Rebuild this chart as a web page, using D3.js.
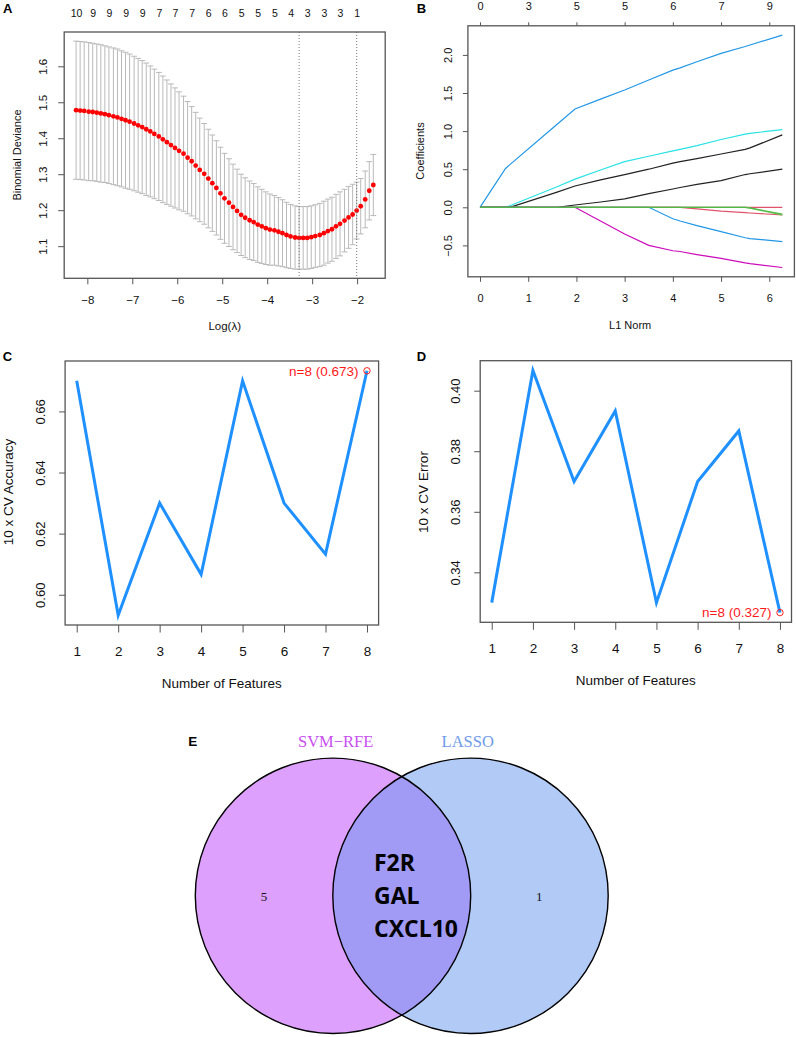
<!DOCTYPE html>
<html>
<head>
<meta charset="utf-8">
<script src="https://cdn.jsdelivr.net/npm/d3@7"></script>
<style>
  body { margin: 0; background: #fff; }
</style>
</head>
<body>
<div id="fig"></div>
<script>
var FONT = '"Liberation Sans", Arial, Helvetica, sans-serif';
var SERIF = '"Liberation Serif", "Times New Roman", serif';

// ---- A : cv.glmnet binomial deviance ----
var logLambda = [-8.25,-8.16,-8.07,-7.97,-7.88,-7.79,-7.70,-7.61,-7.52,-7.42,
  -7.33,-7.24,-7.15,-7.06,-6.96,-6.87,-6.78,-6.69,-6.60,-6.51,
  -6.41,-6.32,-6.23,-6.14,-6.05,-5.96,-5.86,-5.77,-5.68,-5.59,
  -5.50,-5.40,-5.31,-5.22,-5.13,-5.04,-4.95,-4.85,-4.76,-4.67,
  -4.58,-4.49,-4.39,-4.30,-4.21,-4.12,-4.03,-3.94,-3.84,-3.75,
  -3.66,-3.57,-3.48,-3.38,-3.29,-3.20,-3.11,-3.02,-2.93,-2.83,
  -2.74,-2.65,-2.56,-2.47,-2.38,-2.28,-2.19,-2.10,-2.01,-1.92,
  -1.82,-1.73,-1.64];
var cvMean = [1.478,1.477,1.476,1.474,1.473,1.471,1.469,1.467,1.464,1.461,
  1.458,1.454,1.450,1.446,1.441,1.436,1.431,1.425,1.419,1.412,
  1.405,1.397,1.389,1.381,1.373,1.365,1.357,1.346,1.336,1.324,
  1.312,1.301,1.288,1.275,1.262,1.247,1.233,1.221,1.209,1.198,
  1.187,1.179,1.172,1.167,1.160,1.155,1.150,1.146,1.144,1.140,
  1.136,1.131,1.127,1.124,1.123,1.123,1.123,1.125,1.128,1.131,
  1.136,1.142,1.147,1.155,1.162,1.171,1.180,1.188,1.199,1.211,
  1.230,1.254,1.270];
var cvSd = [0.192,0.192,0.192,0.192,0.191,0.191,0.191,0.190,0.190,0.190,
  0.190,0.189,0.189,0.188,0.187,0.186,0.185,0.184,0.182,0.180,
  0.178,0.176,0.173,0.170,0.167,0.164,0.160,0.156,0.152,0.148,
  0.144,0.140,0.137,0.134,0.131,0.128,0.125,0.122,0.119,0.116,
  0.113,0.111,0.109,0.107,0.105,0.103,0.101,0.099,0.097,0.095,
  0.093,0.091,0.089,0.088,0.087,0.087,0.087,0.087,0.087,0.088,
  0.089,0.089,0.089,0.089,0.089,0.087,0.086,0.084,0.079,0.077,
  0.079,0.081,0.085];
var nzLabels = [10,9,9,9,9,7,7,7,6,6,5,5,5,4,3,3,3,1];   // every 4th lambda
var lambdaMin = -3.29, lambda1se = -2.01;
var aTicksX = [-8,-7,-6,-5,-4,-3,-2];
var aTicksY = [1.1,1.2,1.3,1.4,1.5,1.6];

// ---- B : coefficient paths ----
var l1Norm    = [0,0.53,0.62,1.6,1.97,2.5,3.0,3.5,4.0,4.15,4.5,5.0,5.5,5.6,6.27];
var coefRedFlat = [0,0,0,0,0,0,0,0,0,0,0,0,0,0,0];
var coefBlueUp  = [0,0.51,0.56,1.09,1.29,1.42,1.54,1.67,1.80,1.83,1.91,2.02,2.11,2.13,2.26];
var coefCyan    = [0,0,0.02,0.27,0.37,0.49,0.60,0.67,0.74,0.76,0.81,0.89,0.96,0.97,1.02];
var coefBlack1  = [0,0,0,0.20,0.28,0.36,0.43,0.50,0.58,0.60,0.64,0.70,0.76,0.78,0.95];
var coefBlack2  = [0,0,0,0,0.03,0.07,0.11,0.18,0.24,0.26,0.30,0.35,0.43,0.44,0.50];
var coefMagenta = [0,0,0,0,0,-0.18,-0.35,-0.50,-0.57,-0.58,-0.62,-0.67,-0.73,-0.74,-0.79];
var coefBlueDn  = [0,0,0,0,0,0,0,0,-0.15,-0.18,-0.24,-0.32,-0.40,-0.41,-0.45];
var coefRed     = [0,0,0,0,0,0,0,0,0,0,-0.02,-0.05,-0.07,-0.075,-0.10];
var coefGreen1  = [0,0,0,0,0,0,0,0,0,0,0,0,0,-0.01,-0.10];
var coefGreen2  = [0,0,0,0,0,0,0,0,0,0,0,0,0,-0.008,-0.09];
var pathColors = ["#DF536B","#2297E6","#28E2E5","#222222","#222222","#CD0BBC","#2297E6","#DF536B","#61D04F","#4FB848"];
var dfTop = [0,3,5,5,6,7,9];
var bTicksX = [0,1,2,3,4,5,6];
var bTicksY = [-0.5,0,0.5,1,1.5,2];

// ---- C / D : SVM-RFE ----
var nFeatures  = [1,2,3,4,5,6,7,8];
var cvAccuracy = [0.6700,0.5933,0.6300,0.6067,0.6700,0.6300,0.6133,0.6733];
var cvError    = [0.3300,0.4067,0.3700,0.3933,0.3300,0.3700,0.3867,0.3267];
var cTicksY = [0.60,0.62,0.64,0.66];
var dTicksY = [0.34,0.36,0.38,0.40];

// ---- E : Venn ----
var vennSets = ["SVM\u2212RFE","LASSO"];
var vennOnly = [5, 1];
var vennShared = ["F2R","GAL","CXCL10"];
var vennColors = ["#BD41FB","#6495ED"];
var vennText = ["#C94EF0","#6E9BEA"];

var svg = d3.select("#fig").append("svg")
    .attr("width", 796).attr("height", 1037)
    .attr("font-family", FONT);

function rExpand(ext) {
  var d = (ext[1] - ext[0]) * 0.04;
  return [ext[0] - d, ext[1] + d];
}
function styleAxis(g, fs) {
  g.select(".domain").remove();
  g.attr("font-family", FONT).attr("font-size", fs);
  g.selectAll(".tick line").attr("stroke", "#555").attr("stroke-width", 1);
  g.selectAll(".tick text").attr("fill", "#111");
}
function bottomAxis(y0, scale, vals, fmt, tick, labOff, fs) {
  var g = svg.append("g").attr("transform", "translate(0," + y0 + ")");
  g.call(d3.axisBottom(scale).tickValues(vals).tickFormat(fmt).tickSize(tick));
  styleAxis(g, fs);
  g.selectAll(".tick text").attr("y", labOff).attr("dy", "0.35em");
}
function topAxis(y0, scale, vals, labels, tick, labOff, fs) {
  var g = svg.append("g").attr("transform", "translate(0," + y0 + ")");
  g.call(d3.axisTop(scale).tickValues(vals).tickFormat(function(d, i) { return labels[i]; }).tickSize(tick));
  styleAxis(g, fs);
  g.selectAll(".tick text").attr("y", -labOff).attr("dy", "0.35em");
  if (tick === 0) g.selectAll(".tick line").remove();
}
function leftAxis(x0, scale, vals, fmt, tick, labOff, fs) {
  var g = svg.append("g").attr("transform", "translate(" + x0 + ",0)");
  g.call(d3.axisLeft(scale).tickValues(vals).tickFormat(fmt).tickSize(tick));
  styleAxis(g, fs);
  g.selectAll(".tick text").attr("x", null).attr("dy", "0.35em")
    .attr("text-anchor", "middle")
    .attr("transform", "translate(" + (-labOff) + ",0) rotate(-90)");
}
function box(x, y) {
  svg.append("rect")
    .attr("x", x.range()[0]).attr("y", y.range()[1])
    .attr("width", x.range()[1] - x.range()[0])
    .attr("height", y.range()[0] - y.range()[1])
    .attr("fill", "none").attr("stroke", "#555").attr("stroke-width", 1.3);
}
function label(txt, x, y, fs, opts) {
  opts = opts || {};
  var t = svg.append("text").text(txt)
    .attr("x", x).attr("y", y)
    .attr("font-size", fs)
    .attr("fill", opts.fill || "#111")
    .attr("text-anchor", opts.anchor || "middle")
    .attr("dy", opts.dy == null ? "0.35em" : opts.dy);
  if (opts.bold) t.attr("font-weight", "bold");
  if (opts.family) t.attr("font-family", opts.family);
  if (opts.rotate) t.attr("transform", "rotate(-90," + x + "," + y + ")");
  return t;
}

// ================= Panel A =================
(function() {
  var pts = logLambda.map(function(l, i) {
    return { x: l, m: cvMean[i], lo: cvMean[i] - cvSd[i], hi: cvMean[i] + cvSd[i] };
  });
  var x = d3.scaleLinear().domain(rExpand(d3.extent(logLambda))).range([64.2, 385.2]);
  var y = d3.scaleLinear()
    .domain(rExpand([d3.min(pts, function(d) { return d.lo; }), d3.max(pts, function(d) { return d.hi; })]))
    .range([278.3, 32]);
  var barw = (x.domain()[1] - x.domain()[0]) * 0.009;

  var eb = svg.append("g").attr("stroke", "#b9b9b9").attr("stroke-width", 1);
  eb.selectAll(".v").data(pts).enter().append("line")
    .attr("x1", function(d) { return x(d.x); }).attr("x2", function(d) { return x(d.x); })
    .attr("y1", function(d) { return y(d.lo); }).attr("y2", function(d) { return y(d.hi); });
  eb.selectAll(".u").data(pts).enter().append("line")
    .attr("x1", function(d) { return x(d.x - barw); }).attr("x2", function(d) { return x(d.x + barw); })
    .attr("y1", function(d) { return y(d.hi); }).attr("y2", function(d) { return y(d.hi); });
  eb.selectAll(".l").data(pts).enter().append("line")
    .attr("x1", function(d) { return x(d.x - barw); }).attr("x2", function(d) { return x(d.x + barw); })
    .attr("y1", function(d) { return y(d.lo); }).attr("y2", function(d) { return y(d.lo); });

  svg.append("g").selectAll("circle").data(pts).enter().append("circle")
    .attr("cx", function(d) { return x(d.x); }).attr("cy", function(d) { return y(d.m); })
    .attr("r", 2.4).attr("fill", "#ff0000");

  [lambdaMin, lambda1se].forEach(function(v) {
    svg.append("line").attr("x1", x(v)).attr("x2", x(v))
      .attr("y1", y.range()[1]).attr("y2", y.range()[0])
      .attr("stroke", "#777").attr("stroke-width", 1).attr("stroke-dasharray", "1,2");
  });

  box(x, y);
  bottomAxis(278.3, x, aTicksX, d3.format("d"), 6, 21.7, 11.5);
  leftAxis(64.2, y, aTicksY, d3.format(".1f"), 6, 21, 11.5);
  var topPos = nzLabels.map(function(d, i) { return logLambda[i * 4]; });
  topAxis(32, x, topPos, nzLabels, 0, 19, 10.5);

  label("Log(\u03bb)", (x.range()[0] + x.range()[1]) / 2, 326, 11.5);
  label("Binomial Deviance", 17, 155, 11, { rotate: true });
  label("A", 3, 12.5, 13, { anchor: "start", bold: true, dy: 0, fill: "#000" });
})();

// ================= Panel B =================
(function() {
  var paths = [coefRedFlat, coefBlueUp, coefCyan, coefBlack1, coefBlack2,
               coefMagenta, coefBlueDn, coefRed, coefGreen1, coefGreen2];
  var allC = d3.merge(paths);
  var x = d3.scaleLinear().domain(rExpand(d3.extent(l1Norm))).range([467.9, 794.4]);
  var y = d3.scaleLinear().domain(rExpand(d3.extent(allC))).range([276.8, 25.8]);
  var line = d3.line().x(function(d, i) { return x(l1Norm[i]); }).y(function(d) { return y(d); });

  svg.append("g").selectAll("path").data(paths).enter().append("path")
    .attr("d", line)
    .attr("fill", "none")
    .attr("stroke", function(d, i) { return pathColors[i]; })
    .attr("stroke-width", 1.2);

  box(x, y);
  bottomAxis(276.8, x, bTicksX, d3.format("d"), 5, 21, 11);
  leftAxis(467.9, y, bTicksY, d3.format(".1f"), 5, 19.6, 11);
  topAxis(25.8, x, bTicksX, dfTop, 3.5, 19.3, 11);

  label("L1 Norm", (x.range()[0] + x.range()[1]) / 2 - 1, 325, 11);
  label("Coefficients", 420, 151, 11, { rotate: true });
  label("B", 416.7, 12.7, 13, { anchor: "start", bold: true, dy: 0, fill: "#000" });
})();

// ================= Panels C & D =================
function cvPanel(vals, xr, yr, ticksY, yTitle, titleX) {
  var x = d3.scaleLinear().domain(rExpand(d3.extent(nFeatures))).range(xr);
  var y = d3.scaleLinear().domain(rExpand(d3.extent(vals))).range(yr);
  var line = d3.line().x(function(d, i) { return x(nFeatures[i]); }).y(function(d) { return y(d); });

  svg.append("path").datum(vals).attr("d", line)
    .attr("fill", "none").attr("stroke", "#1E90FF").attr("stroke-width", 3)
    .attr("stroke-linejoin", "miter");

  var best = vals.length - 1;
  var bx = x(nFeatures[best]), by = y(vals[best]);
  svg.append("circle").attr("cx", bx).attr("cy", by).attr("r", 3.2)
    .attr("fill", "none").attr("stroke", "#ff2020").attr("stroke-width", 1);
  label("n=" + nFeatures[best] + " (" + d3.format(".3f")(vals[best]) + ")", bx - 8.5, by, 13.5,
        { anchor: "end", fill: "#ff1a1a" });

  box(x, y);
  bottomAxis(yr[0], x, nFeatures, d3.format("d"), 7.5, 25.8, 13.5);
  leftAxis(xr[0], y, ticksY, d3.format(".2f"), 6, 25, 13);
  label("Number of Features", (xr[0] + xr[1]) / 2, yr[0] + 58, 13.5);
  label(yTitle, titleX, 492, 13.5, { rotate: true });
}
cvPanel(cvAccuracy, [65.1, 378.6], [625, 361], cTicksY, "10 x CV Accuracy", 8);
cvPanel(cvError, [480.2, 791.5], [622.3, 360.7], dTicksY, "10 x CV Error", 423.3);
label("C", 2.7, 361, 13, { anchor: "start", bold: true, dy: 0, fill: "#000" });
label("D", 416.7, 361, 13, { anchor: "start", bold: true, dy: 0, fill: "#000" });

// ================= Panel E =================
(function() {
  var cy = 895.8, r = 137.7;
  var cx = [333, 470.5];
  var g = svg.append("g");
  g.selectAll("circle.fill").data(vennSets).enter().append("circle")
    .attr("cx", function(d, i) { return cx[i]; }).attr("cy", cy).attr("r", r)
    .attr("fill", function(d, i) { return vennColors[i]; }).attr("fill-opacity", 0.5);
  g.selectAll("circle.edge").data(vennSets).enter().append("circle")
    .attr("cx", function(d, i) { return cx[i]; }).attr("cy", cy).attr("r", r)
    .attr("fill", "none").attr("stroke", "#000").attr("stroke-width", 1.4);

  g.selectAll("text.set").data(vennSets).enter().append("text")
    .text(function(d) { return d; })
    .attr("x", function(d, i) { return [335.7, 467.7][i]; }).attr("y", 741.7).attr("dy", "0.35em")
    .attr("text-anchor", "middle").attr("font-family", SERIF).attr("font-size", 16.5)
    .attr("fill", function(d, i) { return vennText[i]; });

  g.selectAll("text.cnt").data(vennOnly).enter().append("text")
    .text(function(d) { return d; })
    .attr("x", function(d, i) { return [264, 539.3][i]; }).attr("y", 896.7).attr("dy", "0.35em")
    .attr("text-anchor", "middle").attr("font-family", SERIF).attr("font-size", 13).attr("fill", "#111");

  g.selectAll("text.gene").data(vennShared).enter().append("text")
    .text(function(d) { return d; })
    .attr("x", 374).attr("y", function(d, i) { return 870.7 + i * 33.3; })
    .attr("font-family", '"Open Sans", "Noto Sans", sans-serif')
    .attr("font-weight", "bold").attr("font-size", 23).attr("fill", "#000");

  label("E", 188.3, 746, 13.5, { anchor: "start", bold: true, dy: 0, fill: "#000" });
})();
</script>
</body>
</html>
